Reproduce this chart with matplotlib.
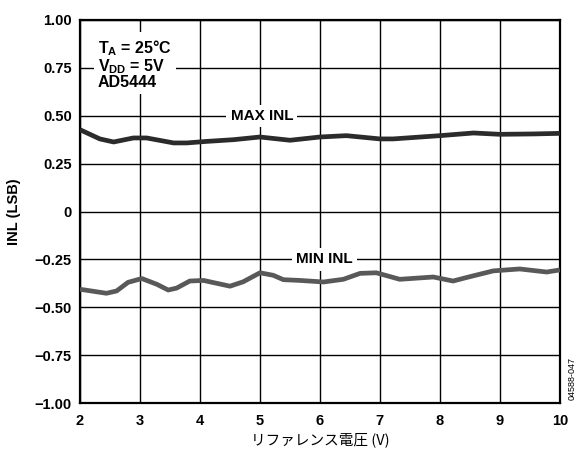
import numpy as np
import matplotlib.pyplot as plt

plt.rcParams['font.family'] = ['Liberation Sans', 'DejaVu Sans']

# reference voltage (V) and INL (LSB)
vref_max = [2.0, 2.33, 2.56, 2.89, 3.11, 3.56, 3.78, 4.11, 4.56, 5.0, 5.5,
            6.0, 6.44, 7.0, 7.22, 8.0, 8.56, 9.0, 9.56, 10.0]
inl_max = [0.427, 0.379, 0.363, 0.384, 0.384, 0.358, 0.358, 0.366, 0.375, 0.389, 0.372,
           0.389, 0.396, 0.379, 0.379, 0.396, 0.41, 0.403, 0.405, 0.408]

vref_min = [2.0, 2.44, 2.61, 2.8, 3.03, 3.28, 3.47, 3.61, 3.83, 4.06, 4.28, 4.5, 4.72,
            5.0, 5.22, 5.39, 5.67, 6.06, 6.39, 6.67, 6.94, 7.33, 7.89, 8.22, 8.44,
            8.89, 9.33, 9.78, 10.0]
inl_min = [-0.406, -0.427, -0.415, -0.37, -0.35, -0.38, -0.41, -0.40, -0.363, -0.36,
           -0.375, -0.39, -0.367, -0.32, -0.333, -0.356, -0.36, -0.368, -0.354, -0.323,
           -0.32, -0.354, -0.342, -0.363, -0.345, -0.31, -0.30, -0.316, -0.305]

xticks = [2, 3, 4, 5, 6, 7, 8, 9, 10]
yticks = [-1.0, -0.75, -0.5, -0.25, 0, 0.25, 0.5, 0.75, 1.0]
ytick_labels = ['\u22121.00', '\u22120.75', '\u22120.50', '\u22120.25', '0',
                '0.25', '0.50', '0.75', '1.00']

fig = plt.figure(figsize=(5.82, 4.5), dpi=100)
ax = fig.add_axes([0.1375, 0.1044, 0.8245, 0.8512])

ax.set_xlim(2, 10)
ax.set_ylim(-1, 1)
ax.set_xticks(xticks)
ax.set_yticks(yticks)
ax.set_yticklabels(ytick_labels)
ax.grid(True, color='black', lw=1.0)
ax.set_axisbelow(True)
ax.tick_params(length=0, labelsize=10.5)
ax.tick_params(axis='x', pad=8)
ax.tick_params(axis='y', pad=6)
for lab in ax.get_xticklabels() + ax.get_yticklabels():
    lab.set_fontweight('bold')
for s in ax.spines.values():
    s.set_linewidth(1.6)

ax.plot(vref_max, inl_max, color='#2b2b2b', lw=3.4, solid_joinstyle='round',
        solid_capstyle='butt', zorder=3)
ax.plot(vref_min, inl_min, color='#595959', lw=3.4, solid_joinstyle='round',
        solid_capstyle='butt', zorder=3)

ax.text(5.03, 0.5, 'MAX INL', ha='center', va='center', fontsize=11, fontweight='bold',
        bbox=dict(facecolor='white', edgecolor='none', pad=3), zorder=4)
ax.text(6.08, -0.25, 'MIN INL', ha='center', va='center', fontsize=11, fontweight='bold',
        bbox=dict(facecolor='white', edgecolor='none', pad=3), zorder=4)
ax.text(2.3, 0.905, 'T$_\\mathregular{A}$ = 25°C\nV$_\\mathregular{DD}$ = 5V\nAD5444',
        ha='left', va='top', fontsize=11.5, fontweight='bold', linespacing=0.95,
        bbox=dict(facecolor='white', edgecolor='none', pad=3), zorder=4)

ax.set_ylabel('INL (LSB)', fontsize=10.5, fontweight='bold', labelpad=10)
ax.set_xlabel('リファレンス電圧 (V)', fontsize=10.5, labelpad=3,
              family=['Noto Sans CJK JP', 'DejaVu Sans'])

fig.text(0.983, 0.16, '04588-047', rotation=90, ha='center', va='center', fontsize=6.5)

fig.savefig('out.png', dpi=100)
